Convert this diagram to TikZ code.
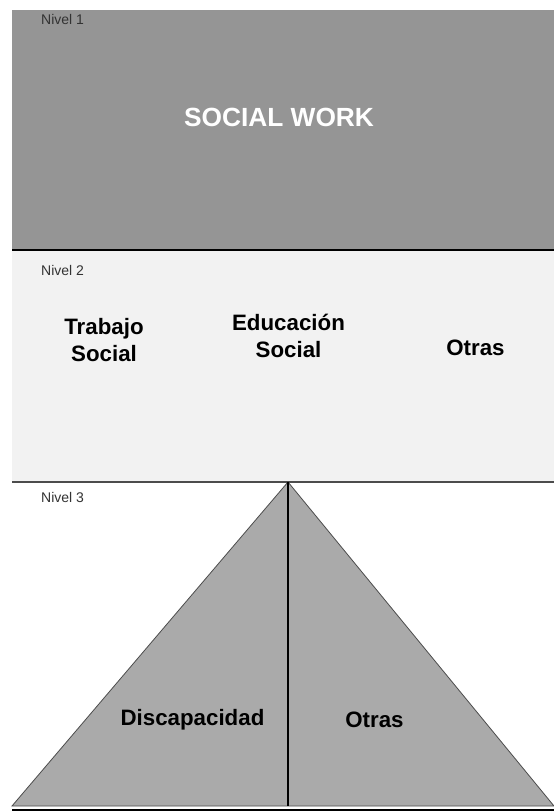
\documentclass[tikz,border=0pt]{standalone}
\usepackage{fontspec}
\setmainfont{Liberation Sans}
\begin{document}
\begin{tikzpicture}[x=1pt,y=-1pt,
  rule/.style={line width=1.6pt},
  level/.style={anchor=base west,inner sep=0pt,text=black!80,font=\fontsize{14}{16}\selectfont},
  label/.style={anchor=base,inner sep=0pt,align=center,font=\fontsize{22.3}{27}\selectfont\bfseries},
]
\definecolor{darkband}{HTML}{959595}
\definecolor{lightband}{HTML}{F2F2F2}
\definecolor{pyramid}{HTML}{AAAAAA}
\useasboundingbox (0,0) rectangle (554,811);
\fill[white] (0,0) rectangle (554,811);

% level 1
\fill[darkband] (12,10) rectangle (554,250);
% level 2
\fill[lightband] (12,250) rectangle (554,482);
\draw[rule,black] (12,250) -- (554,250);
\draw[rule,black!70] (12,482) -- (554,482);

% level 3: pyramid split in two
\coordinate (apex) at (288,482);
\coordinate (bl) at (12,806);
\coordinate (br) at (554,806);
\coordinate (mid) at (288,806);
\filldraw[fill=pyramid,draw=black!70,line width=0.8pt] (bl) -- (apex) -- (br) -- cycle;
\draw[line width=1.3pt] (apex) -- (mid);
\draw[rule,black] (12,810) -- (554,810);

\node[level] (n1) at (41,24) {Nivel 1};
\node[level] (n2) at (41,275) {Nivel 2};
\node[level] (n3) at (41,502) {Nivel 3};

\node[anchor=base,inner sep=0pt,text=white,font=\fontsize{26.3}{30}\selectfont\bfseries] (sw) at (279,126) {SOCIAL WORK};

% multi-line labels sit on the baseline of their last line
\node[label] (ts) at (104,361) {Trabajo\\Social};
\node[label] (es) at (288.5,357) {Educación\\Social};
\node[label] (o2) at (475.5,355) {Otras};

\node[label] (disc) at (192.5,725) {Discapacidad};
\node[label] (o3) at (374.5,727) {Otras};
\end{tikzpicture}
\end{document}
